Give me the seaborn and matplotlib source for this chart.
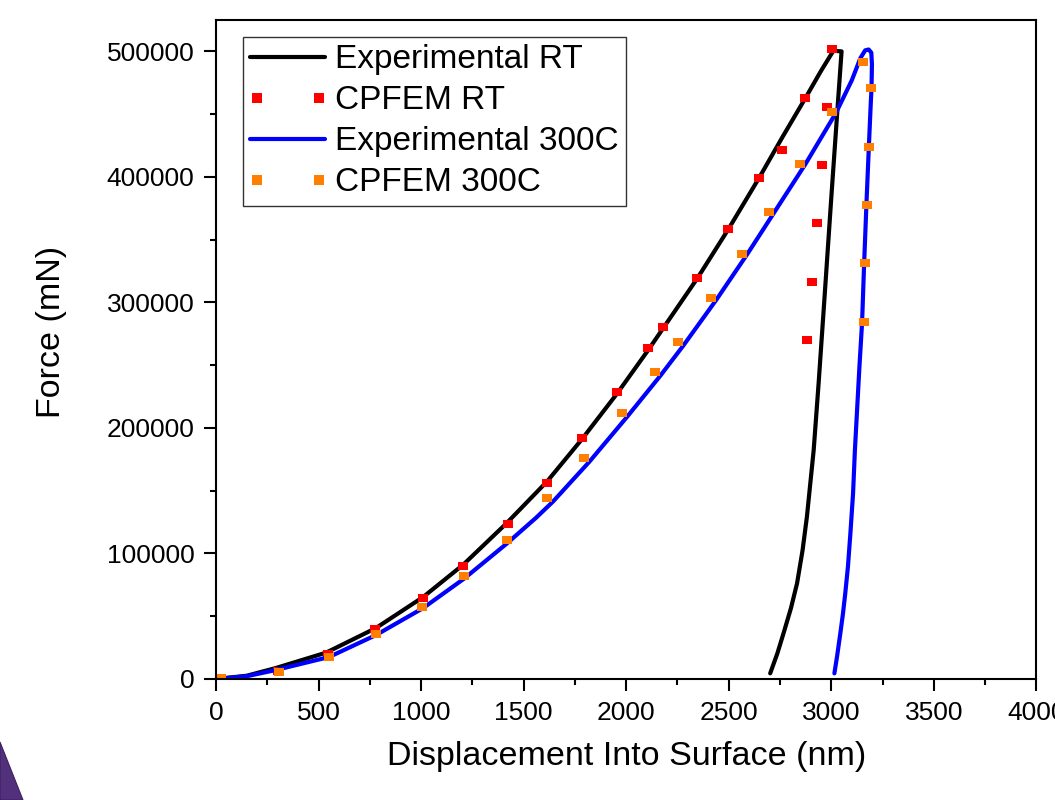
import numpy as np
import pandas as pd
import matplotlib
matplotlib.use("Agg")
import matplotlib.pyplot as plt
from matplotlib.patches import Polygon
from matplotlib.ticker import MultipleLocator
from matplotlib.legend_handler import HandlerLine2D
import seaborn as sns

# --- data (nm, mN) ---
exp_rt_x = [0, 150, 293, 537, 780, 1010, 1205, 1415, 1615, 1785, 1956, 2107, 2346,
            2498, 2649, 2761, 2873, 2950, 3010, 3050, 3033, 2999, 2966, 2938, 2914,
            2881, 2860, 2833, 2803, 2767, 2737, 2702]
exp_rt_y = [0, 2600, 8800, 21000, 40600, 65300, 91000, 123800, 157500, 191200,
            227500, 262000, 319000, 358300, 399500, 431500, 462600, 484500, 500500,
            500000, 461000, 381400, 301800, 235400, 182300, 129200, 102700, 76200,
            56300, 36400, 20400, 4500]

cp_rt_x = [24, 302, 546, 776, 1010, 1205, 1424, 1615, 1785, 1956, 2107, 2180, 2346,
           2498, 2649, 2761, 2873, 3005, 2980, 2956, 2932, 2907, 2883]
cp_rt_y = [800, 6400, 19900, 39800, 64500, 90000, 123400, 156100, 191900, 228500,
           263500, 280300, 319300, 358300, 398900, 421200, 462600, 501600, 455400,
           409200, 363100, 316100, 269900]

exp_300_x = [0, 150, 293, 551, 780, 1010, 1210, 1415, 1561, 1644, 1820, 2005, 2166,
             2278, 2439, 2590, 2722, 2873, 3024, 3100, 3141, 3165, 3182, 3195, 3198,
             3196, 3193, 3183, 3172, 3160, 3150, 3137, 3115, 3106, 3093, 3081, 3068,
             3057, 3044, 3029, 3015]
exp_300_y = [0, 2200, 7200, 17500, 35000, 56500, 80000, 107500, 128500, 141500,
             173000, 209000, 241500, 265500, 302000, 338400, 371800, 410000, 451400,
             477000, 494400, 500800, 501500, 499000, 490000, 470000, 461000, 424000,
             381400, 331000, 284000, 248600, 182300, 147800, 116000, 89400, 68200,
             52300, 36400, 19100, 4500]

cp_300_x = [24, 307, 551, 780, 1005, 1210, 1420, 1615, 1795, 1980, 2141, 2254, 2415,
            2566, 2698, 2849, 3005, 3156, 3195, 3185, 3176, 3166, 3161]
cp_300_y = [800, 5600, 17500, 35800, 57300, 82000, 110700, 144100, 176000, 211800,
            244400, 268300, 303400, 338400, 371800, 410000, 451400, 491300, 470600,
            423600, 377400, 331200, 284200]

labels = ["Experimental RT", "CPFEM RT", "Experimental 300C", "CPFEM 300C"]

sns.set_style("ticks")
plt.rcParams['font.family'] = ['Liberation Sans', 'DejaVu Sans']
for k in ["text.color", "axes.labelcolor", "xtick.color", "ytick.color"]:
    plt.rcParams[k] = "black"

fig = plt.figure(figsize=(10.55, 8), dpi=100)
ax = fig.add_axes([0.2047, 0.15125, 0.7777, 0.82375])

# small rectangle marker, like the Origin square dots
rect = [(-1.0, -0.75), (1.0, -0.75), (1.0, 0.75), (-1.0, 0.75), (-1.0, -0.75)]

df_rt = pd.DataFrame({"x": exp_rt_x, "y": exp_rt_y})
df_cprt = pd.DataFrame({"x": cp_rt_x, "y": cp_rt_y})
df_300 = pd.DataFrame({"x": exp_300_x, "y": exp_300_y})
df_cp300 = pd.DataFrame({"x": cp_300_x, "y": cp_300_y})

sns.lineplot(data=df_rt, x="x", y="y", sort=False, estimator=None, ax=ax,
             color="black", linewidth=3, label=labels[0])
sns.lineplot(data=df_cprt, x="x", y="y", sort=False, estimator=None, ax=ax,
             color="#FF0000", linestyle="", marker=rect, markersize=7,
             markeredgewidth=0, label=labels[1])
sns.lineplot(data=df_300, x="x", y="y", sort=False, estimator=None, ax=ax,
             color="#0000FF", linewidth=3, label=labels[2])
sns.lineplot(data=df_cp300, x="x", y="y", sort=False, estimator=None, ax=ax,
             color="#FF8000", linestyle="", marker=rect, markersize=7,
             markeredgewidth=0, label=labels[3])

ax.set_xlim(0, 4000)
ax.set_ylim(0, 525000)
ax.xaxis.set_major_locator(MultipleLocator(500))
ax.xaxis.set_minor_locator(MultipleLocator(250))
ax.yaxis.set_major_locator(MultipleLocator(100000))
ax.yaxis.set_minor_locator(MultipleLocator(50000))
ax.ticklabel_format(style='plain', axis='y', useOffset=False)

for s in ax.spines.values():
    s.set_linewidth(1.5)
    s.set_color("black")
ax.tick_params(which='major', direction='out', length=8.5, width=1.5,
               labelsize=19, pad=7, colors='black')
ax.tick_params(which='minor', direction='out', length=4.5, width=1.5)
ax.tick_params(top=False, right=False, which='both')

ax.set_xlabel("Displacement Into Surface (nm)", fontsize=24.5, labelpad=12)
ax.set_ylabel("Force (mN)", fontsize=24.5)
ax.yaxis.set_label_coords(-0.182, 0.527)

handles, labs = ax.get_legend_handles_labels()
# solid lines run the full handle, the dot series sit slightly inset
hmap = {h: HandlerLine2D(marker_pad=0.2 if i % 2 else 0)
        for i, h in enumerate(handles)}
leg = ax.legend(handles, labs, loc='upper left', bbox_to_anchor=(0.033, 0.974),
                borderaxespad=0, fontsize=24, numpoints=2, handlelength=2.25,
                handletextpad=0.3, borderpad=0.22, labelspacing=0.3,
                fancybox=False, framealpha=1, handler_map=hmap)
leg.get_frame().set_edgecolor("#333333")
leg.get_frame().set_linewidth(1.0)
for h in leg.legend_handles:
    if h.get_marker() not in (None, "None", ""):
        h.set_marker("s")
        h.set_markersize(6.5)

# purple slide decoration in the corner
tri = Polygon([(0, 0), (23 / 1055, 0), (0, 58 / 800)], closed=True,
              transform=fig.transFigure, facecolor="#52307c",
              edgecolor="#3d2160", linewidth=0.8)
fig.patches.append(tri)

fig.savefig("out.png", dpi=100)
